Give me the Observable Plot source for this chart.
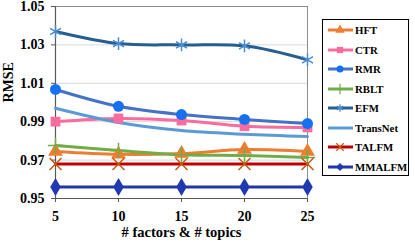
<!DOCTYPE html>
<html>
<head>
<meta charset="utf-8">
<script src="https://cdn.jsdelivr.net/npm/d3@7"></script>
<script src="https://cdn.jsdelivr.net/npm/@observablehq/plot@0.6"></script>
<style>
  body { margin: 0; background: #fff; }
  #wrap { position: relative; width: 415px; height: 245px; }
  #wrap svg text, #wrap svg, #legend, #legend span { font-family: "Liberation Serif", "Times New Roman", "DejaVu Serif", serif !important; font-weight: bold; }
  #legend { position: absolute; left: 322px; top: 19px; width: 85px; height: 155px; border: 1px solid #000; background: #fff; }
  .item { position: absolute; left: 0; height: 18px; display: flex; align-items: center; font-size: 10.8px; color: #000; }
  .item svg { margin-left: 5px; margin-right: 2px; }
</style>
</head>
<body>
<div id="wrap"></div>
<script>
const xs = [5, 10, 15, 20, 25];
const seriesNames = ["HFT", "CTR", "RMR", "RBLT", "EFM", "TransNet", "TALFM", "MMALFM"];
const HFT      = [0.9745, 0.9730, 0.9734, 0.9755, 0.9745];
const CTR      = [0.9900, 0.9917, 0.9906, 0.9876, 0.9870];
const RMR      = [1.0068, 0.9980, 0.9937, 0.9912, 0.9890];
const RBLT     = [0.9776, 0.9750, 0.9728, 0.9724, 0.9714];
const EFM      = [1.0370, 1.0307, 1.0300, 1.0295, 1.0222];
const TransNet = [0.9970, 0.9896, 0.9854, 0.9835, 0.9823];
const TALFM    = [0.9680, 0.9680, 0.9680, 0.9680, 0.9680];
const MMALFM   = [0.9560, 0.9560, 0.9560, 0.9560, 0.9560];
const yTicks = [0.95, 0.97, 0.99, 1.01, 1.03, 1.05];
const xTitle = "# factors & # topics";
const yTitle = "RMSE";

const values = {HFT, CTR, RMR, RBLT, EFM, TransNet, TALFM, MMALFM};
const styles = {
  HFT:      {line: "#ED7D31", mark: "#ED7D31", symbol: "triangle", filled: true, r: 5.5},
  CTR:      {line: "#FA6B9E", mark: "#FA6B9E", symbol: "square", filled: true, r: 5.5},
  RMR:      {line: "#4472C4", mark: "#1570F2", symbol: "circle", filled: true, r: 5.5},
  RBLT:     {line: "#70AD47", mark: "#70AD47", symbol: "plus", filled: false, r: 5},
  EFM:      {line: "#255E91", mark: "#4A8BD2", symbol: "asterisk", filled: false, r: 6},
  TransNet: {line: "#5B9BD5", mark: null},
  TALFM:    {line: "#C00000", mark: "#C55A11", symbol: "times", filled: false, r: 5.5},
  MMALFM:   {line: "#2336A8", mark: "#1F39B2", symbol: "diamond", filled: true, r: 5.5}
};

const FONT = "Liberation Serif, Times New Roman, serif";
const data = seriesNames.flatMap(s => xs.map((x, i) => ({series: s, x, y: values[s][i]})));

const marks = [
  Plot.gridY(yTicks.slice(1), {stroke: "#d9d9d9", strokeOpacity: 1}),
  Plot.frame({stroke: "#8c8c8c"}),
  Plot.ruleX([5], {stroke: "#595959", strokeWidth: 1.2}),
  Plot.ruleY([0.95], {stroke: "#595959", strokeWidth: 1.2}),
  Plot.axisY({ticks: yTicks, tickFormat: d3.format(".2f"), tickSize: 4, tickPadding: 7, fontSize: 14, fontWeight: "bold", fontFamily: FONT, fill: "#000", stroke: "#595959", label: null}),
  Plot.axisX({ticks: xs, tickFormat: d => d, tickSize: 4, tickPadding: 9, fontSize: 14, fontWeight: "bold", fontFamily: FONT, fill: "#000", stroke: "#595959", label: null}),
  Plot.text([yTitle], {frameAnchor: "left", dx: -47, rotate: -90, fontSize: 14, fontWeight: "bold", fontFamily: FONT, fill: "#000"}),
  Plot.text([xTitle], {frameAnchor: "bottom", dy: 38, fontSize: 14.5, fontWeight: "bold", fontFamily: FONT, fill: "#000"})
];

for (const s of seriesNames) {
  const st = styles[s];
  const d = data.filter(e => e.series === s);
  marks.push(Plot.line(d, {x: "x", y: "y", stroke: st.line, strokeWidth: 3, curve: "catmull-rom"}));
}
for (const s of seriesNames) {
  const st = styles[s];
  if (!st.mark) continue;
  const d = data.filter(e => e.series === s);
  marks.push(Plot.dot(d, st.filled
    ? {x: "x", y: "y", symbol: st.symbol, r: st.r, fill: st.mark, stroke: "none"}
    : {x: "x", y: "y", symbol: st.symbol, r: st.r, stroke: st.mark, strokeWidth: 1.5, fill: "none"}));
}

const chart = Plot.plot({
  width: 415,
  height: 245,
  marginLeft: 55,
  marginRight: 108,
  marginTop: 6,
  marginBottom: 47,
  x: {domain: [5, 25]},
  y: {domain: [0.95, 1.05]},
  style: {fontFamily: FONT, background: "#fff"},
  marks
});

const wrap = document.getElementById("wrap");
wrap.appendChild(chart);

// legend
const legend = document.createElement("div");
legend.id = "legend";
const symbolMap = {triangle: d3.symbolTriangle, square: d3.symbolSquare, circle: d3.symbolCircle, plus: d3.symbolPlus, asterisk: d3.symbolAsterisk, times: d3.symbolTimes, diamond: d3.symbolDiamond2};
seriesNames.forEach((s, i) => {
  const st = styles[s];
  const item = document.createElement("div");
  item.className = "item";
  item.style.top = (1 + i * 19.5) + "px";
  let mk = "";
  if (st.mark) {
    const r = 3.5;
    const path = d3.symbol(symbolMap[st.symbol], Math.PI * r * r)();
    mk = st.filled
      ? `<path d="${path}" transform="translate(12,6)" fill="${st.mark}"/>`
      : `<path d="${path}" transform="translate(12,6)" fill="none" stroke="${st.mark}" stroke-width="1.2"/>`;
  }
  item.innerHTML = `<svg width="25" height="12"><line x1="0" x2="25" y1="6" y2="6" stroke="${st.line}" stroke-width="3"/>${mk}</svg><span>${s}</span>`;
  legend.appendChild(item);
});
wrap.appendChild(legend);
</script>
</body>
</html>
